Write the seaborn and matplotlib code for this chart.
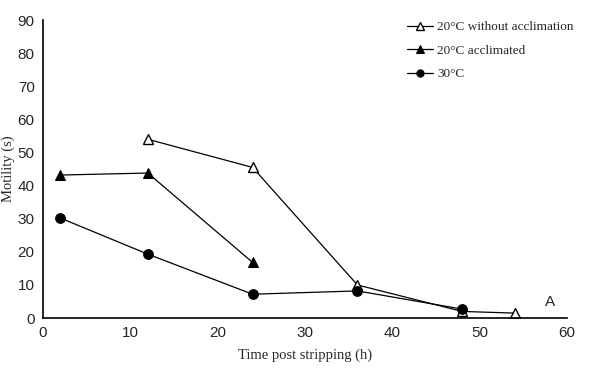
import matplotlib
matplotlib.use('Agg')
import matplotlib.pyplot as plt
import seaborn as sns

# ========== dados ==========
t_sem = [12, 24, 36, 48, 54]
m_sem = [54, 45.5, 10, 2, 1.5]

t_acl = [2, 12, 24]
m_acl = [43.2, 43.8, 16.8]

t_30 = [2, 12, 24, 36, 48]
m_30 = [30.2, 19.3, 7.2, 8.2, 2.7]

labels = ['20°C without acclimation', '20°C acclimated', '30°C']

sns.set_style('ticks')
serif = ['Liberation Serif', 'DejaVu Serif']
sans = ['Liberation Sans', 'DejaVu Sans']

fig = plt.figure(figsize=(6, 3.72), dpi=100)
ax = fig.add_axes([0.0717, 0.145, 0.8733, 0.801])

sns.lineplot(x=t_sem, y=m_sem, ax=ax, color='black', lw=0.9, marker='^',
             markersize=7, markerfacecolor='white', markeredgecolor='black',
             markeredgewidth=1, label=labels[0])
sns.lineplot(x=t_acl, y=m_acl, ax=ax, color='black', lw=0.9, marker='^',
             markersize=7, markerfacecolor='black', markeredgecolor='black',
             label=labels[1])
sns.lineplot(x=t_30, y=m_30, ax=ax, color='black', lw=0.9, marker='o',
             markersize=7, markerfacecolor='black', markeredgecolor='black',
             label=labels[2])

ax.set_xlim(0, 60)
ax.set_ylim(0, 90)
ax.set_xticks(range(0, 61, 10))
ax.set_yticks(range(0, 91, 10))
ax.tick_params(length=0, labelsize=11, pad=6)
for lab in ax.get_xticklabels() + ax.get_yticklabels():
    lab.set_family(sans)
sns.despine(ax=ax)
for s in ['left', 'bottom']:
    ax.spines[s].set_linewidth(1.2)
    ax.spines[s].set_color('black')

ax.set_xlabel('Time post stripping (h)', family=serif, fontsize=10.5, labelpad=6)
ax.set_ylabel('Motility (s)', family=serif, fontsize=10.5, labelpad=2)

ax.text(58, 5, 'A', family=sans, fontsize=11, ha='center', va='center')

leg = ax.legend(loc='upper left', bbox_to_anchor=(0.658, 0.975),
                bbox_transform=fig.transFigure, frameon=False,
                prop={'family': serif, 'size': 9.5}, handlelength=2.0,
                handletextpad=0.3, labelspacing=0.85, markerscale=0.75)

fig.savefig('out.png', dpi=100)
print('sucesso')
